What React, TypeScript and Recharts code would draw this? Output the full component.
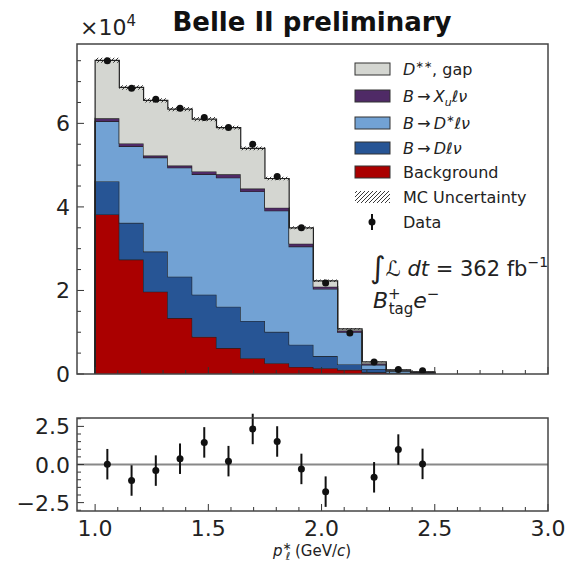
import React from 'react';
import {
  ComposedChart,
  Area,
  Scatter,
  ErrorBar,
  XAxis,
  YAxis,
  ReferenceLine,
} from 'recharts';

// 14 bins of p*_l from 1.0 to 2.5 GeV/c
const binEdges = [1.0, 1.107, 1.214, 1.321, 1.429, 1.536, 1.643, 1.75, 1.857, 1.964, 2.071, 2.179, 2.286, 2.393, 2.5];
const binCenters = [1.054, 1.161, 1.268, 1.375, 1.482, 1.589, 1.696, 1.804, 1.911, 2.018, 2.125, 2.232, 2.339, 2.446];

// stacked MC templates (events per bin)
const background = [38200, 27400, 19700, 13400, 8900, 6200, 3800, 2600, 1700, 1400, 1000, 400, 100, 50];
const bToDlnu = [7900, 8800, 9600, 9900, 10100, 9900, 8900, 7500, 5300, 2900, 1300, 800, 200, 100];
const bToDstarlnu = [14400, 18300, 22500, 26100, 28800, 30900, 31000, 29000, 23500, 16100, 7700, 1000, 400, 200];
const bToXulnu = [700, 700, 500, 500, 700, 800, 700, 700, 700, 500, 400, 300, 200, 100];
const dssGap = [13900, 13400, 13200, 13500, 12500, 11200, 9600, 7000, 3800, 1400, 400, 400, 100, 50];
const mcUncertainty = [600, 550, 500, 500, 500, 450, 450, 400, 350, 300, 200, 100, 50, 50];

const dataCounts = [75000, 68400, 65800, 63600, 61400, 59000, 55000, 47300, 35000, 21800, 9800, 2900, 1100, 800];

// pulls in lower panel (bin 11 has no point)
const pulls = [0.02, -1.05, -0.4, 0.38, 1.45, 0.22, 2.33, 1.51, -0.29, -1.78, null, -0.84, 0.98, 0.04];
const pullErrors = [1, 1, 1, 1, 1, 1, 1, 1, 1, 1, 1, 1, 1, 1];

const xTicks = [1.0, 1.1, 1.2, 1.3, 1.4, 1.5, 1.6, 1.7, 1.8, 1.9, 2.0, 2.1, 2.2, 2.3, 2.4, 2.5, 2.6, 2.7, 2.8, 2.9, 3.0];
const xMajorTicks = [1.0, 1.5, 2.0, 2.5, 3.0];
const yTicks = [0, 5000, 10000, 15000, 20000, 25000, 30000, 35000, 40000, 45000, 50000, 55000, 60000, 65000, 70000, 75000];
const yMajorTicks = [0, 20000, 40000, 60000];
const yMajorLabels = ['0', '2', '4', '6'];
const pullTicks = [-3, -2.5, -2, -1.5, -1, -0.5, 0, 0.5, 1, 1.5, 2, 2.5, 3];
const pullMajorTicks = [-2.5, 0, 2.5];
const pullMajorLabels = ['\u22122.5', '0.0', '2.5'];

const colors = {
  gap: '#d4d6d1',
  xu: '#4f2a66',
  dstar: '#72a2d4',
  d: '#275595',
  bkg: '#aa0000',
  edge: '#222',
};

const legendItems = [
  { key: 'gap', color: colors.gap },
  { key: 'xu', color: colors.xu },
  { key: 'dstar', color: colors.dstar },
  { key: 'd', color: colors.d },
  { key: 'bkg', color: colors.bkg },
  { key: 'unc', color: 'url(#hatch)' },
  { key: 'data', color: '#111' },
];

const font = 'DejaVu Sans';
const near = (a: number, b: number) => Math.abs(a - b) < 1e-6;

// histogram rows at bin edges for step areas
const histRows = (() => {
  const rows: any[] = [{ x: binEdges[0], bkg: 0, d: 0, dstar: 0, xu: 0, gap: 0, unc: [0, 0] }];
  for (let i = 0; i < binCenters.length; i++) {
    const total = background[i] + bToDlnu[i] + bToDstarlnu[i] + bToXulnu[i] + dssGap[i];
    rows.push({
      x: binEdges[i],
      bkg: background[i],
      d: bToDlnu[i],
      dstar: bToDstarlnu[i],
      xu: bToXulnu[i],
      gap: dssGap[i],
      unc: [total - mcUncertainty[i], total + mcUncertainty[i]],
    });
  }
  rows.push({ x: binEdges[binEdges.length - 1], bkg: 0, d: 0, dstar: 0, xu: 0, gap: 0, unc: [0, 0] });
  return rows;
})();

const dataPoints = binCenters.map((x, i) => ({ x, y: dataCounts[i] }));
const pullPoints = binCenters
  .map((x, i) => ({ x, y: pulls[i], err: pullErrors[i] }))
  .filter((p) => p.y !== null);

function makeXTick(showLabels: boolean) {
  return (props: any) => {
    const { x, y, payload } = props;
    const major = xMajorTicks.some((t) => near(t, payload.value));
    return (
      <g>
        <line x1={x} x2={x} y1={y} y2={y - (major ? 7 : 4)} stroke="#333" strokeWidth={1} />
        {major && showLabels && (
          <text x={x} y={y + 25} textAnchor="middle" fontSize={22} fontFamily={font} fill="#222">
            {payload.value.toFixed(1)}
          </text>
        )}
      </g>
    );
  };
}

function makeYTick(majors: number[], labels: string[]) {
  return (props: any) => {
    const { x, y, payload } = props;
    const idx = majors.findIndex((t) => near(t, payload.value));
    return (
      <g>
        <line x1={x} x2={x + (idx >= 0 ? 7 : 4)} y1={y} y2={y} stroke="#333" strokeWidth={1} />
        {idx >= 0 && (
          <text x={x - 7} y={y + 8} textAnchor="end" fontSize={22} fontFamily={font} fill="#222">
            {labels[idx]}
          </text>
        )}
      </g>
    );
  };
}

function LegendLabel({ k }: { k: string }) {
  if (k === 'gap')
    return (
      <>
        <tspan fontStyle="italic">D</tspan>
        <tspan dy={-7} fontSize={10}>{'\u2217\u2217'}</tspan>
        <tspan dy={7}>, gap</tspan>
      </>
    );
  if (k === 'xu')
    return (
      <>
        <tspan fontStyle="italic">B</tspan>
        <tspan>{'\u2009\u2192\u2009'}</tspan>
        <tspan fontStyle="italic">X</tspan>
        <tspan dy={4} fontSize={11} fontStyle="italic">u</tspan>
        <tspan dy={-4} fontStyle="italic">{'\u2113\u03bd'}</tspan>
      </>
    );
  if (k === 'dstar')
    return (
      <>
        <tspan fontStyle="italic">B</tspan>
        <tspan>{'\u2009\u2192\u2009'}</tspan>
        <tspan fontStyle="italic">D</tspan>
        <tspan dy={-7} fontSize={10}>{'\u2217'}</tspan>
        <tspan dy={7} fontStyle="italic">{'\u2113\u03bd'}</tspan>
      </>
    );
  if (k === 'd')
    return (
      <>
        <tspan fontStyle="italic">B</tspan>
        <tspan>{'\u2009\u2192\u2009'}</tspan>
        <tspan fontStyle="italic">{'D\u2113\u03bd'}</tspan>
      </>
    );
  if (k === 'bkg') return <tspan>Background</tspan>;
  if (k === 'unc') return <tspan>MC Uncertainty</tspan>;
  return <tspan>Data</tspan>;
}

export default function App() {
  const legendY = [69, 96, 123, 148, 172, 197, 222];
  return (
    <div style={{ position: 'absolute', left: 0, top: 0, width: 570, height: 570, background: '#fff', fontFamily: font }}>
      <svg width={0} height={0} style={{ position: 'absolute' }}>
        <defs>
          <pattern id="hatch" patternUnits="userSpaceOnUse" width={4} height={4}>
            <path d="M-1,1 l2,-2 M0,4 l4,-4 M3,5 l2,-2" stroke="#222" strokeWidth={0.9} />
          </pattern>
        </defs>
      </svg>

      {/* upper panel: stacked histogram */}
      <div style={{ position: 'absolute', left: 0, top: 0 }}>
        <ComposedChart width={570} height={570} data={histRows} margin={{ top: 44, right: 22, bottom: 195, left: 76 }}>
          <XAxis
            dataKey="x"
            type="number"
            domain={[0.92, 3.0]}
            allowDataOverflow
            ticks={xTicks}
            interval={0}
            height={1}
            tickSize={0}
            tickMargin={0}
            axisLine={false}
            tick={makeXTick(false)}
          />
          <YAxis
            type="number"
            domain={[0, 79000]}
            allowDataOverflow
            ticks={yTicks}
            interval={0}
            width={1}
            tickSize={0}
            tickMargin={0}
            axisLine={false}
            tick={makeYTick(yMajorTicks, yMajorLabels)}
          />
          <Area type="stepAfter" dataKey="bkg" stackId="mc" fill={colors.bkg} fillOpacity={1} stroke={colors.edge} strokeWidth={1.2} isAnimationActive={false} />
          <Area type="stepAfter" dataKey="d" stackId="mc" fill={colors.d} fillOpacity={1} stroke={colors.edge} strokeWidth={1.2} isAnimationActive={false} />
          <Area type="stepAfter" dataKey="dstar" stackId="mc" fill={colors.dstar} fillOpacity={1} stroke={colors.edge} strokeWidth={1.2} isAnimationActive={false} />
          <Area type="stepAfter" dataKey="xu" stackId="mc" fill={colors.xu} fillOpacity={1} stroke={colors.edge} strokeWidth={1.2} isAnimationActive={false} />
          <Area type="stepAfter" dataKey="gap" stackId="mc" fill={colors.gap} fillOpacity={1} stroke={colors.edge} strokeWidth={1.2} isAnimationActive={false} />
          <Area type="stepAfter" dataKey="unc" fill="url(#hatch)" fillOpacity={1} stroke="none" isAnimationActive={false} />
          <Scatter
            data={dataPoints}
            dataKey="y"
            isAnimationActive={false}
            shape={(p: any) => <circle cx={p.cx} cy={p.cy} r={3.5} fill="#111" />}
          />
        </ComposedChart>
      </div>

      {/* lower panel: pulls */}
      <div style={{ position: 'absolute', left: 0, top: 0 }}>
        <ComposedChart width={570} height={570} margin={{ top: 418, right: 22, bottom: 58, left: 76 }}>
          <XAxis
            dataKey="x"
            type="number"
            domain={[0.92, 3.0]}
            allowDataOverflow
            ticks={xTicks}
            interval={0}
            height={1}
            tickSize={0}
            tickMargin={0}
            axisLine={false}
            tick={makeXTick(true)}
          />
          <YAxis
            type="number"
            domain={[-3.05, 3.05]}
            allowDataOverflow
            ticks={pullTicks}
            interval={0}
            width={1}
            tickSize={0}
            tickMargin={0}
            axisLine={false}
            tick={makeYTick(pullMajorTicks, pullMajorLabels)}
          />
          <ReferenceLine y={0} stroke="#888" strokeWidth={2} />
          <Scatter
            data={pullPoints}
            dataKey="y"
            isAnimationActive={false}
            shape={(p: any) => <circle cx={p.cx} cy={p.cy} r={3.5} fill="#111" />}
          >
            <ErrorBar dataKey="err" direction="y" width={0} stroke="#111" strokeWidth={2} />
          </Scatter>
        </ComposedChart>
      </div>

      {/* frames, titles, legend, annotations */}
      <svg width={570} height={570} style={{ position: 'absolute', left: 0, top: 0, pointerEvents: 'none' }} fontFamily={font}>
        <rect x={77} y={44} width={471} height={330} fill="none" stroke="#444" strokeWidth={1.5} />
        <rect x={77} y={418} width={471} height={93} fill="none" stroke="#444" strokeWidth={1.5} />

        <text x={312} y={31} textAnchor="middle" fontSize={26} fontWeight="bold" fill="#111">
          Belle II preliminary
        </text>
        <text x={80} y={35} fontSize={22} fill="#222">
          {'\u00d710'}
          <tspan dy={-9} fontSize={15}>4</tspan>
        </text>

        {legendItems.map((item, i) => {
          const cy = legendY[i];
          let swatch;
          if (item.key === 'data') {
            swatch = (
              <g>
                <line x1={372} x2={372} y1={cy - 8} y2={cy + 8} stroke="#111" strokeWidth={2} />
                <circle cx={372} cy={cy} r={3.5} fill="#111" />
              </g>
            );
          } else if (item.key === 'unc') {
            swatch = <rect x={355} y={cy - 6} width={35} height={12} fill={item.color} />;
          } else {
            swatch = <rect x={355} y={cy - 6} width={35} height={12} fill={item.color} stroke="#333" strokeWidth={1} />;
          }
          return (
            <g key={item.key}>
              {swatch}
              <text x={403} y={cy + 6} fontSize={16} fill="#222">
                <LegendLabel k={item.key} />
              </text>
            </g>
          );
        })}

        <text x={370} y={276} fontSize={21} fill="#222">
          <tspan fontSize={30} dy={2}>{'\u222b'}</tspan>
          <tspan dy={-2} fontStyle="italic">{'\u2112'}</tspan>
          <tspan fontStyle="italic"> dt</tspan>
          <tspan> = 362 fb</tspan>
          <tspan dy={-9} fontSize={14}>{'\u22121'}</tspan>
        </text>
        <text x={373} y={308} fontSize={22} fill="#222">
          <tspan fontStyle="italic">B</tspan>
          <tspan dy={-9} fontSize={15}>+</tspan>
          <tspan dx={-12} dy={15} fontSize={15}>tag</tspan>
          <tspan dy={-6} fontStyle="italic">e</tspan>
          <tspan dy={-9} fontSize={15}>{'\u2212'}</tspan>
        </text>

        <text x={312} y={556} textAnchor="middle" fontSize={15} fill="#222">
          <tspan fontStyle="italic">p</tspan>
          <tspan dy={-6} fontSize={11}>{'\u2217'}</tspan>
          <tspan dx={-6} dy={10} fontSize={11} fontStyle="italic">{'\u2113'}</tspan>
          <tspan dy={-4}> (GeV/</tspan>
          <tspan fontStyle="italic">c</tspan>
          <tspan>)</tspan>
        </text>
      </svg>
    </div>
  );
}
